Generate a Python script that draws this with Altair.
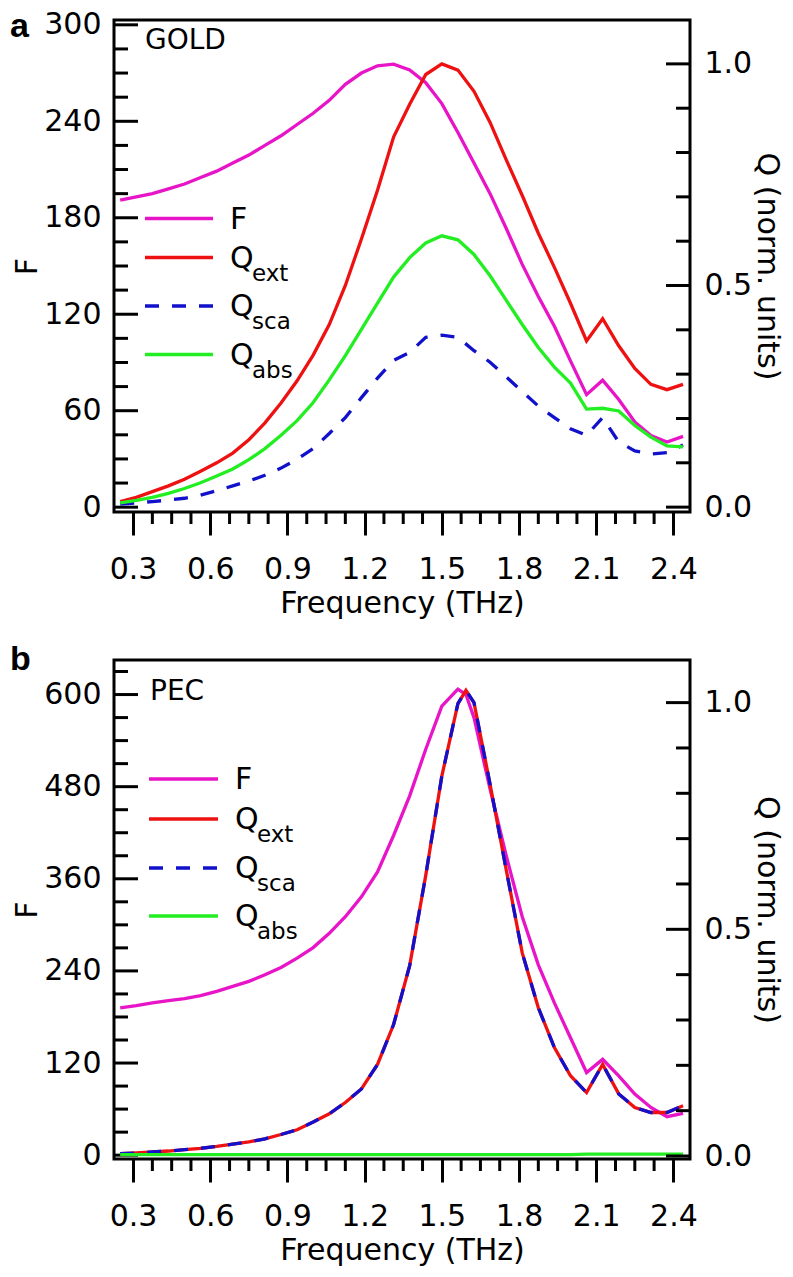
import altair as alt
import pandas as pd

# ---------------- data ----------------
# Panel a: GOLD
freq_a = [0.25, 0.3125, 0.375, 0.4375, 0.5, 0.5625, 0.625, 0.6875, 0.75, 0.8125,
          0.875, 0.9375, 1.0, 1.0625, 1.125, 1.1875, 1.25, 1.3125, 1.375, 1.4375,
          1.5, 1.5625, 1.625, 1.6875, 1.75, 1.8125, 1.875, 1.9375, 2.0, 2.0625,
          2.125, 2.1875, 2.25, 2.3125, 2.375, 2.4375]
F_a = [191, 193, 195, 198, 201, 205, 209, 214, 219, 225,
       231, 238, 245, 253, 263, 270, 274.5, 275.5, 272, 264,
       251, 233, 214, 195, 173.5, 151, 131, 112.5, 91, 70,
       79, 67, 53, 44.5, 40.5, 44]
Qext_a = [0.0125, 0.022, 0.035, 0.048, 0.063, 0.081, 0.100, 0.122, 0.152, 0.190,
          0.235, 0.285, 0.343, 0.412, 0.500, 0.605, 0.715, 0.835, 0.909, 0.976,
          1.000, 0.986, 0.938, 0.868, 0.784, 0.703, 0.618, 0.541, 0.460, 0.375,
          0.425, 0.364, 0.313, 0.277, 0.265, 0.277]
Qsca_a = [0.007, 0.0095, 0.0125, 0.016, 0.020, 0.027, 0.037, 0.048, 0.059, 0.072,
          0.088, 0.108, 0.132, 0.166, 0.202, 0.247, 0.291, 0.331, 0.349, 0.383,
          0.388, 0.383, 0.353, 0.327, 0.294, 0.261, 0.228, 0.202, 0.177, 0.162,
          0.202, 0.147, 0.127, 0.120, 0.123, 0.140]
Qabs_a = [0.0095, 0.015, 0.022, 0.031, 0.042, 0.055, 0.070, 0.086, 0.107, 0.132,
          0.162, 0.195, 0.236, 0.287, 0.342, 0.401, 0.460, 0.519, 0.563, 0.596,
          0.612, 0.603, 0.570, 0.522, 0.467, 0.412, 0.360, 0.316, 0.280, 0.221,
          0.223, 0.217, 0.184, 0.158, 0.138, 0.136]

# Panel b: PEC
freq_b = [0.25, 0.3125, 0.375, 0.4375, 0.5, 0.5625, 0.625, 0.6875, 0.75, 0.8125,
          0.875, 0.9375, 1.0, 1.0625, 1.125, 1.1875, 1.25, 1.3125, 1.375, 1.4375,
          1.5, 1.5625, 1.59375, 1.625, 1.6875, 1.75, 1.8125, 1.875, 1.9375, 2.0,
          2.0625, 2.125, 2.1875, 2.25, 2.3125, 2.375, 2.4375]
F_b = [191.8, 194.8, 198.3, 201.3, 203.9, 207.7, 213.4, 219.9, 226.4, 235,
       244.5, 256.6, 270.4, 289, 310.6, 336.5, 368.9, 416.4, 468, 528.7,
       584.8, 607, 600, 569.8, 476.9, 390.5, 310.6, 247.9, 198.3, 152.9,
       107.6, 124.8, 103.2, 79.5, 62.2, 50.1, 54.4]
Qext_b = [0.005, 0.0066, 0.0088, 0.011, 0.014, 0.017, 0.021, 0.026, 0.031, 0.038,
          0.0475, 0.058, 0.075, 0.093, 0.118, 0.148, 0.202, 0.290, 0.420, 0.619,
          0.838, 0.998, 1.027, 1.000, 0.820, 0.632, 0.448, 0.327, 0.239, 0.177,
          0.140, 0.202, 0.137, 0.107, 0.096, 0.096, 0.111]
Qsca_b = [0.005, 0.0066, 0.0088, 0.011, 0.014, 0.017, 0.021, 0.026, 0.031, 0.038,
          0.0475, 0.058, 0.075, 0.093, 0.118, 0.148, 0.202, 0.290, 0.420, 0.619,
          0.838, 0.998, 1.027, 1.000, 0.820, 0.632, 0.448, 0.327, 0.239, 0.177,
          0.140, 0.202, 0.137, 0.107, 0.096, 0.096, 0.111]
Qabs_b = [0.003, 0.003, 0.003, 0.003, 0.003, 0.003, 0.003, 0.003, 0.003, 0.003,
          0.003, 0.003, 0.003, 0.003, 0.003, 0.003, 0.003, 0.003, 0.003, 0.003,
          0.003, 0.003, 0.003, 0.003, 0.003, 0.003, 0.003, 0.003, 0.003, 0.003,
          0.004, 0.004, 0.004, 0.004, 0.004, 0.004, 0.004]

# tick values
X_MAJOR = [0.3, 0.6, 0.9, 1.2, 1.5, 1.8, 2.1, 2.4]
X_MINOR = [0.375, 0.45, 0.525, 0.675, 0.75, 0.825, 0.975, 1.05, 1.125,
           1.275, 1.35, 1.425, 1.575, 1.65, 1.725, 1.875, 1.95, 2.025,
           2.175, 2.25, 2.325]
FA_MAJOR = [0, 60, 120, 180, 240, 300]
FA_MINOR = [15, 30, 45, 75, 90, 105, 135, 150, 165, 195, 210, 225, 255, 270, 285]
FB_MAJOR = [0, 120, 240, 360, 480, 600]
FB_MINOR = [30, 60, 90, 150, 180, 210, 270, 300, 330, 390, 420, 450, 510, 540, 570, 630]
Q_MAJOR = [0.0, 0.5, 1.0]
Q_MINOR = [0.1, 0.2, 0.3, 0.4, 0.6, 0.7, 0.8, 0.9]

SERIES = ["F", "Q", "Q", "Q"]
SUBS = ["", "ext", "sca", "abs"]

# ---------------- styles ----------------
FONT = "DejaVu Sans"
MAG = "#e814c8"
RED = "#ee1111"
BLUE = "#1111cc"
GREEN = "#22ee22"
LW = 3.3
W = 576
X_DOM = [0.2259, 2.4645]


def build_panel(freq, F, Qe, Qs, Qa, F_dom, Q_dom, F_maj, F_min, H, tag, letter,
                leg_y, lx0, lx1, tx, tag_x, tag_y, let_y):
    df = pd.DataFrame({"freq": freq, "F": F, "Qext": Qe, "Qsca": Qs, "Qabs": Qa})
    xs = alt.Scale(domain=X_DOM, nice=False, zero=False)
    fs = alt.Scale(domain=F_dom, nice=False, zero=False)
    qs = alt.Scale(domain=Q_dom, nice=False, zero=False)
    base = alt.Chart(df)

    f_line = base.mark_line(color=MAG, strokeWidth=LW).encode(
        x=alt.X("freq:Q", scale=xs,
                axis=alt.Axis(values=X_MAJOR, format=".1f", tickSize=23, tickWidth=3,
                              tickColor="black", domain=False, grid=False,
                              labelPadding=19, title="Frequency (THz)",
                              titlePadding=4)),
        y=alt.Y("F:Q", scale=fs,
                axis=alt.Axis(orient="left", values=F_maj, ticks=False,
                              domain=False, grid=False, labelPadding=13, title="F",
                              titlePadding=1)))
    q_ext = base.mark_line(color=RED, strokeWidth=LW).encode(
        x=alt.X("freq:Q", scale=xs, axis=None),
        y=alt.Y("Qext:Q", scale=qs,
                axis=alt.Axis(orient="right", values=Q_MAJOR, format=".1f", ticks=False,
                              domain=False, grid=False, labelPadding=14,
                              title="Q (norm. units)", titlePadding=0)))
    q_sca = base.mark_line(color=BLUE, strokeWidth=LW, strokeDash=[14, 13]).encode(
        x=alt.X("freq:Q", scale=xs, axis=None),
        y=alt.Y("Qsca:Q", scale=qs, axis=None))
    q_abs = base.mark_line(color=GREEN, strokeWidth=LW).encode(
        x=alt.X("freq:Q", scale=xs, axis=None),
        y=alt.Y("Qabs:Q", scale=qs, axis=None))

    fmaj = alt.Chart(pd.DataFrame({"v": F_maj})).mark_rule(color="black", strokeWidth=3).encode(
        x=alt.value(0), x2=alt.value(24), y=alt.Y("v:Q", scale=fs, axis=None))
    fmin = alt.Chart(pd.DataFrame({"v": F_min})).mark_rule(color="black", strokeWidth=3).encode(
        x=alt.value(0), x2=alt.value(14), y=alt.Y("v:Q", scale=fs, axis=None))
    qmaj = alt.Chart(pd.DataFrame({"v": Q_MAJOR})).mark_rule(color="black", strokeWidth=3).encode(
        x=alt.value(W), x2=alt.value(W - 24), y=alt.Y("v:Q", scale=qs, axis=None))
    qmin = alt.Chart(pd.DataFrame({"v": Q_MINOR})).mark_rule(color="black", strokeWidth=3).encode(
        x=alt.value(W), x2=alt.value(W - 14), y=alt.Y("v:Q", scale=qs, axis=None))
    xmin = alt.Chart(pd.DataFrame({"v": X_MINOR})).mark_rule(color="black", strokeWidth=3).encode(
        x=alt.X("v:Q", scale=xs, axis=None), y=alt.value(H), y2=alt.value(H + 12))

    extras = []
    colors = [MAG, RED, BLUE, GREEN]
    for k in range(4):
        d = alt.Chart(pd.DataFrame({"main": [SERIES[k]], "sub": [SUBS[k]]}))
        kw = dict(color=colors[k], strokeWidth=LW)
        if k == 2:
            kw["strokeDash"] = [14, 13]
        extras.append(d.mark_rule(**kw).encode(
            x=alt.value(lx0), x2=alt.value(lx1), y=alt.value(leg_y[k])))
        extras.append(d.mark_text(align="left", baseline="alphabetic", font=FONT,
                                  fontSize=30, color="black").encode(
            x=alt.value(tx), y=alt.value(leg_y[k] + 10), text="main:N"))
        if SUBS[k]:
            extras.append(d.mark_text(align="left", baseline="alphabetic", font=FONT,
                                      fontSize=23, color="black").encode(
                x=alt.value(tx + 22), y=alt.value(leg_y[k] + 23), text="sub:N"))
    lab = alt.Chart(pd.DataFrame({"t": [tag], "l": [letter]}))
    extras.append(lab.mark_text(align="left", baseline="alphabetic", font=FONT,
                                fontSize=28, color="black").encode(
        x=alt.value(tag_x), y=alt.value(tag_y), text="t:N"))
    extras.append(lab.mark_text(align="left", baseline="top", font="Liberation Sans",
                                fontSize=34, fontWeight="bold", color="black").encode(
        x=alt.value(-104), y=alt.value(let_y), text="l:N"))

    layers = [f_line, fmaj, fmin, xmin, q_ext, q_sca, q_abs, qmaj, qmin] + extras
    return (alt.layer(*layers)
            .resolve_scale(y="independent")
            .resolve_axis(x="independent", y="independent")
            .properties(width=W, height=H))


panel_a = build_panel(freq_a, F_a, Qext_a, Qsca_a, Qabs_a,
                      [-3, 303], [-0.011, 1.099], FA_MAJOR, FA_MINOR, 492,
                      "GOLD", "a", [198.5, 237.5, 286, 334.5], 31, 99, 116, 31, 28.5, -10)
panel_b = build_panel(freq_b, F_b, Qext_b, Qsca_b, Qabs_b,
                      [-5, 645], [-0.0066, 1.094], FB_MAJOR, FB_MINOR, 499,
                      "PEC", "b", [119, 159, 208, 256], 35, 104, 121, 36, 40, -17)

chart = alt.vconcat(panel_a, panel_b, spacing=21).properties(
    padding={"left": 0, "top": 0, "right": 0, "bottom": 0}
).configure_view(stroke="black", strokeWidth=3).configure_axis(
    labelFont=FONT, titleFont=FONT, labelFontSize=30, titleFontSize=30,
    titleFontWeight="normal", labelColor="black", titleColor="black"
)

chart.save("out.html", embed_options={"renderer": "svg", "actions": False})
